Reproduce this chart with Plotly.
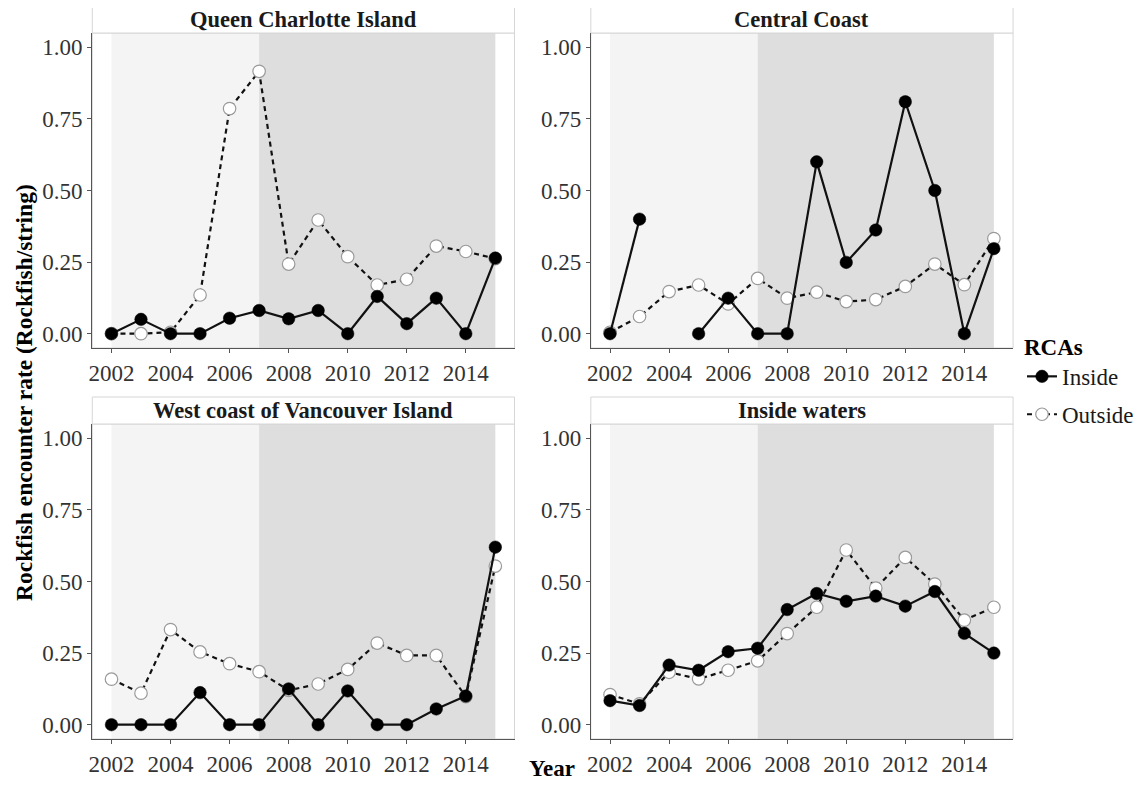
import plotly.graph_objects as go

years = list(range(2002, 2016))
regions = ["Queen Charlotte Island", "Central Coast",
           "West coast of Vancouver Island", "Inside waters"]

inside_qci = [0.0, 0.05, 0.0, 0.0, 0.054, 0.081, 0.052, 0.081, 0.0, 0.13, 0.035, 0.124, 0.0, 0.264]
outside_qci = [0.0, 0.0, 0.005, 0.135, 0.786, 0.916, 0.243, 0.397, 0.269, 0.17, 0.19, 0.306, 0.287, 0.262]

inside_cc = [0.0, 0.40, None, 0.0, 0.124, 0.0, 0.0, 0.60, 0.249, 0.362, 0.81, 0.50, 0.0, 0.297]
outside_cc = [0.005, 0.06, 0.147, 0.17, 0.104, 0.193, 0.124, 0.145, 0.112, 0.119, 0.165, 0.243, 0.171, 0.332]

inside_wcvi = [0.0, 0.0, 0.0, 0.112, 0.0, 0.0, 0.125, 0.0, 0.118, 0.0, 0.0, 0.055, 0.10, 0.62]
outside_wcvi = [0.159, 0.11, 0.332, 0.254, 0.213, 0.185, 0.12, 0.142, 0.193, 0.285, 0.242, 0.242, 0.098, 0.554]

inside_iw = [0.084, 0.067, 0.208, 0.19, 0.255, 0.267, 0.402, 0.458, 0.431, 0.449, 0.414, 0.465, 0.319, 0.25]
outside_iw = [0.105, 0.073, 0.183, 0.16, 0.19, 0.223, 0.318, 0.41, 0.61, 0.477, 0.584, 0.491, 0.365, 0.41]

inside_series = [inside_qci, inside_cc, inside_wcvi, inside_iw]
outside_series = [outside_qci, outside_cc, outside_wcvi, outside_iw]

# shaded periods (start, end, colour)
periods = [(2002, 2007, "#F4F4F4"), (2007, 2015, "#DEDEDE")]

y_ticks = [0, 0.25, 0.5, 0.75, 1.0]
x_ticks = [2002, 2004, 2006, 2008, 2010, 2012, 2014]

# page has an 8px body margin, so the figure is slightly smaller than the window
OFF = 8
W, H = 1147 - 2 * OFF, 788 - 2 * OFF
FONT = "Liberation Serif"
FS = 23

# panel pixel boxes in window coords: (left, right, strip_top, plot_top, plot_bottom)
boxes = [
    (89, 515, 6, 33, 348),
    (592, 1018, 6, 33, 348),
    (89, 515, 397, 424, 739),
    (592, 1018, 397, 424, 739),
]

def px(x):
    return (x - OFF) / W

def py(y):
    return 1 - (y - OFF) / H

fig = go.Figure()
shapes = []
annotations = []

for i, (l, r, st, pt, pb) in enumerate(boxes):
    n = i + 1
    xa = "x" if n == 1 else f"x{n}"
    ya = "y" if n == 1 else f"y{n}"
    xkey = "xaxis" if n == 1 else f"xaxis{n}"
    ykey = "yaxis" if n == 1 else f"yaxis{n}"

    fig.add_trace(go.Scatter(
        x=years, y=outside_series[i], mode="lines+markers", name="Outside",
        xaxis=xa, yaxis=ya, showlegend=(i == 0), legendrank=2, legendgroup="out",
        line=dict(color="#111111", width=2.2, dash="5px,4px"),
        marker=dict(size=12.5, color="white", line=dict(color="#9A9A9A", width=1.2)),
        connectgaps=False,
    ))
    fig.add_trace(go.Scatter(
        x=years, y=inside_series[i], mode="lines+markers", name="Inside",
        xaxis=xa, yaxis=ya, showlegend=(i == 0), legendrank=1, legendgroup="in",
        line=dict(color="#111111", width=2.2),
        marker=dict(size=12.5, color="black", line=dict(color="black", width=0.5)),
        connectgaps=False,
    ))

    fig.update_layout(**{
        xkey: dict(domain=[px(l), px(r)], anchor=ya, range=[2001.35, 2015.65],
                   tickvals=x_ticks, showgrid=False, zeroline=False,
                   showline=True, linecolor="#555555", linewidth=1.2,
                   ticks="outside", ticklen=4, tickcolor="#555555",
                   tickfont=dict(family=FONT, size=FS, color="#333333")),
        ykey: dict(domain=[py(pb), py(pt)], anchor=xa, range=[-0.05, 1.05],
                   tickvals=y_ticks, tickformat=".2f", showgrid=False, zeroline=False,
                   showline=True, linecolor="#555555", linewidth=1.2,
                   ticks="outside", ticklen=4, tickcolor="#555555",
                   tickfont=dict(family=FONT, size=FS, color="#333333")),
    })

    for (a, b, c) in periods:
        shapes.append(dict(type="rect", xref=xa, yref=f"{ya} domain",
                           x0=a, x1=b, y0=0, y1=1, fillcolor=c,
                           line=dict(width=0), layer="below"))
    # panel border
    shapes.append(dict(type="rect", xref="paper", yref="paper",
                       x0=px(l), x1=px(r), y0=py(pb), y1=py(pt),
                       line=dict(color="#D6D6D6", width=1), layer="below"))
    # strip
    shapes.append(dict(type="rect", xref="paper", yref="paper",
                       x0=px(l), x1=px(r), y0=py(pt), y1=py(st),
                       fillcolor="white", line=dict(color="#D6D6D6", width=1)))
    annotations.append(dict(text=f"<b>{regions[i]}</b>", xref="paper", yref="paper",
                            x=(px(l) + px(r)) / 2, y=(py(st) + py(pt)) / 2,
                            showarrow=False, xanchor="center", yanchor="middle",
                            font=dict(family=FONT, size=22.5, color="#1A1A1A")))

annotations.append(dict(text="<b>Year</b>", xref="paper", yref="paper",
                        x=px(553), y=0, yshift=-2, showarrow=False,
                        xanchor="center", yanchor="bottom", borderpad=0,
                        font=dict(family=FONT, size=FS, color="black")))
annotations.append(dict(text="<b>Rockfish encounter rate (Rockfish/string)</b>",
                        xref="paper", yref="paper", x=px(20), y=py(392),
                        showarrow=False, textangle=-90,
                        xanchor="center", yanchor="middle",
                        font=dict(family=FONT, size=23.5, color="black")))

fig.update_layout(
    width=W, height=H, margin=dict(l=0, r=0, t=0, b=0),
    paper_bgcolor="white", plot_bgcolor="white",
    shapes=shapes, annotations=annotations,
    legend=dict(x=px(1027), y=py(325), xanchor="left", yanchor="top",
                title=dict(text="<b>RCAs</b>", font=dict(family=FONT, size=FS, color="black")),
                font=dict(family=FONT, size=FS, color="#1A1A1A"),
                itemwidth=30, tracegroupgap=5, bgcolor="rgba(0,0,0,0)"),
)

fig.write_html("out.html")
